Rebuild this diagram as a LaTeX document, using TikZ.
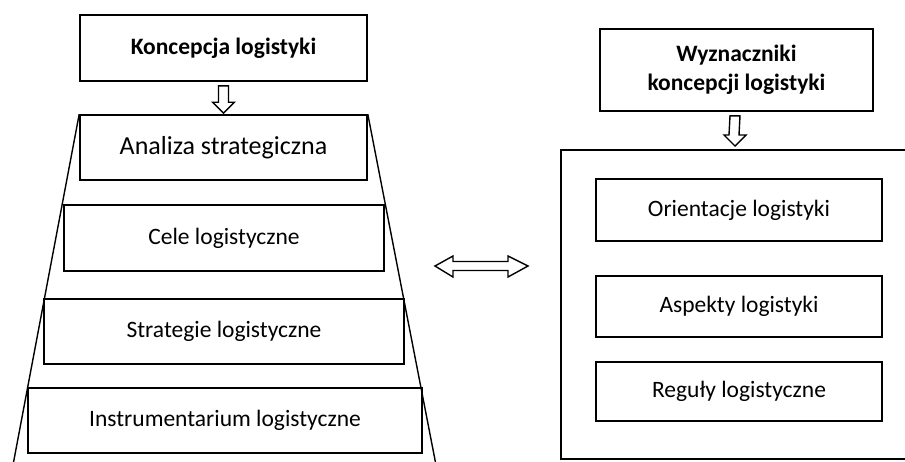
\documentclass[tikz,border=0pt]{standalone}
\usepackage{fontspec}
\setmainfont{Carlito}
\usetikzlibrary{calc}
\begin{document}
\begin{tikzpicture}[x=1pt,y=-1pt,
  box/.style={draw,line width=1.6pt,inner sep=0pt,align=center,font=\fontsize{23.5}{29}\selectfont},
  bbox/.style={box,font=\fontsize{23.5}{29}\selectfont\bfseries},
  blockarrow/.style={draw,line width=1.4pt,fill=white,line join=miter},
  edge/.style={line width=1.4pt}]
\useasboundingbox (0,0) rectangle (905,461);
\clip (0,0) rectangle (905,461);
% left column
\node[bbox,minimum width=287pt,minimum height=66pt] (k) at (223.5,48) {Koncepcja logistyki};
\node[box,minimum width=287pt,minimum height=65pt,font=\fontsize{26}{31}\selectfont] (a) at (223.5,147.5) {Analiza strategiczna};
\node[box,minimum width=320pt,minimum height=66pt] (c) at (224,238) {Cele logistyczne};
\node[box,minimum width=360pt,minimum height=65pt] (s) at (224,331.5) {Strategie logistyczne};
\node[box,minimum width=394pt,minimum height=65pt] (i) at (225,420.5) {Instrumentarium logistyczne};
% trapezoid sides
\coordinate (tl) at (13,465);
\coordinate (tr) at (436,465);
\draw[edge] (a.north west) -- (tl);
\draw[edge] (a.north east) -- (tr);
% right column
\node[bbox,minimum width=273pt,minimum height=82pt] (w) at (736.5,70) {Wyznaczniki\\koncepcji logistyki};
\draw[line width=1.6pt] (561,150) rectangle (925,459);
\coordinate (big) at (735,150);
\node[box,minimum width=286pt,minimum height=62pt] (o) at (739,210) {Orientacje logistyki};
\node[box,minimum width=286pt,minimum height=61pt] (as) at (739,306.5) {Aspekty logistyki};
\node[box,minimum width=286pt,minimum height=59pt] (r) at (739,391.5) {Reguły logistyczne};
% block arrow down 1
\draw[blockarrow] ($(k.south)+(-5,4)$) -- ($(k.south)+(5,4)$) -- ($(a.north)+(5,-12)$) -- ($(a.north)+(11,-12)$)
  -- ($(a.north)+(0,-1)$) -- ($(a.north)+(-11,-12)$) -- ($(a.north)+(-5,-12)$) -- cycle;
% block arrow down 2
\draw[blockarrow] ($(w.south)+(-6.5,4)$) -- ($(w.south)+(3.5,4)$) -- ($(big)+(4,-15)$) -- ($(big)+(11,-15)$)
  -- ($(big)+(0,-4)$) -- ($(big)+(-11,-15)$) -- ($(big)+(-6,-15)$) -- cycle;
% double block arrow
\coordinate (dl) at (435,266);
\coordinate (dr) at (528,266);
\draw[blockarrow] (dl) -- ($(dl)+(18,-10)$) -- ($(dl)+(18,-4.5)$) -- ($(dr)+(-20,-4.5)$) -- ($(dr)+(-20,-10)$)
  -- (dr) -- ($(dr)+(-20,11)$) -- ($(dr)+(-20,4.5)$) -- ($(dl)+(18,4.5)$) -- ($(dl)+(18,11)$) -- cycle;
\end{tikzpicture}
\end{document}
